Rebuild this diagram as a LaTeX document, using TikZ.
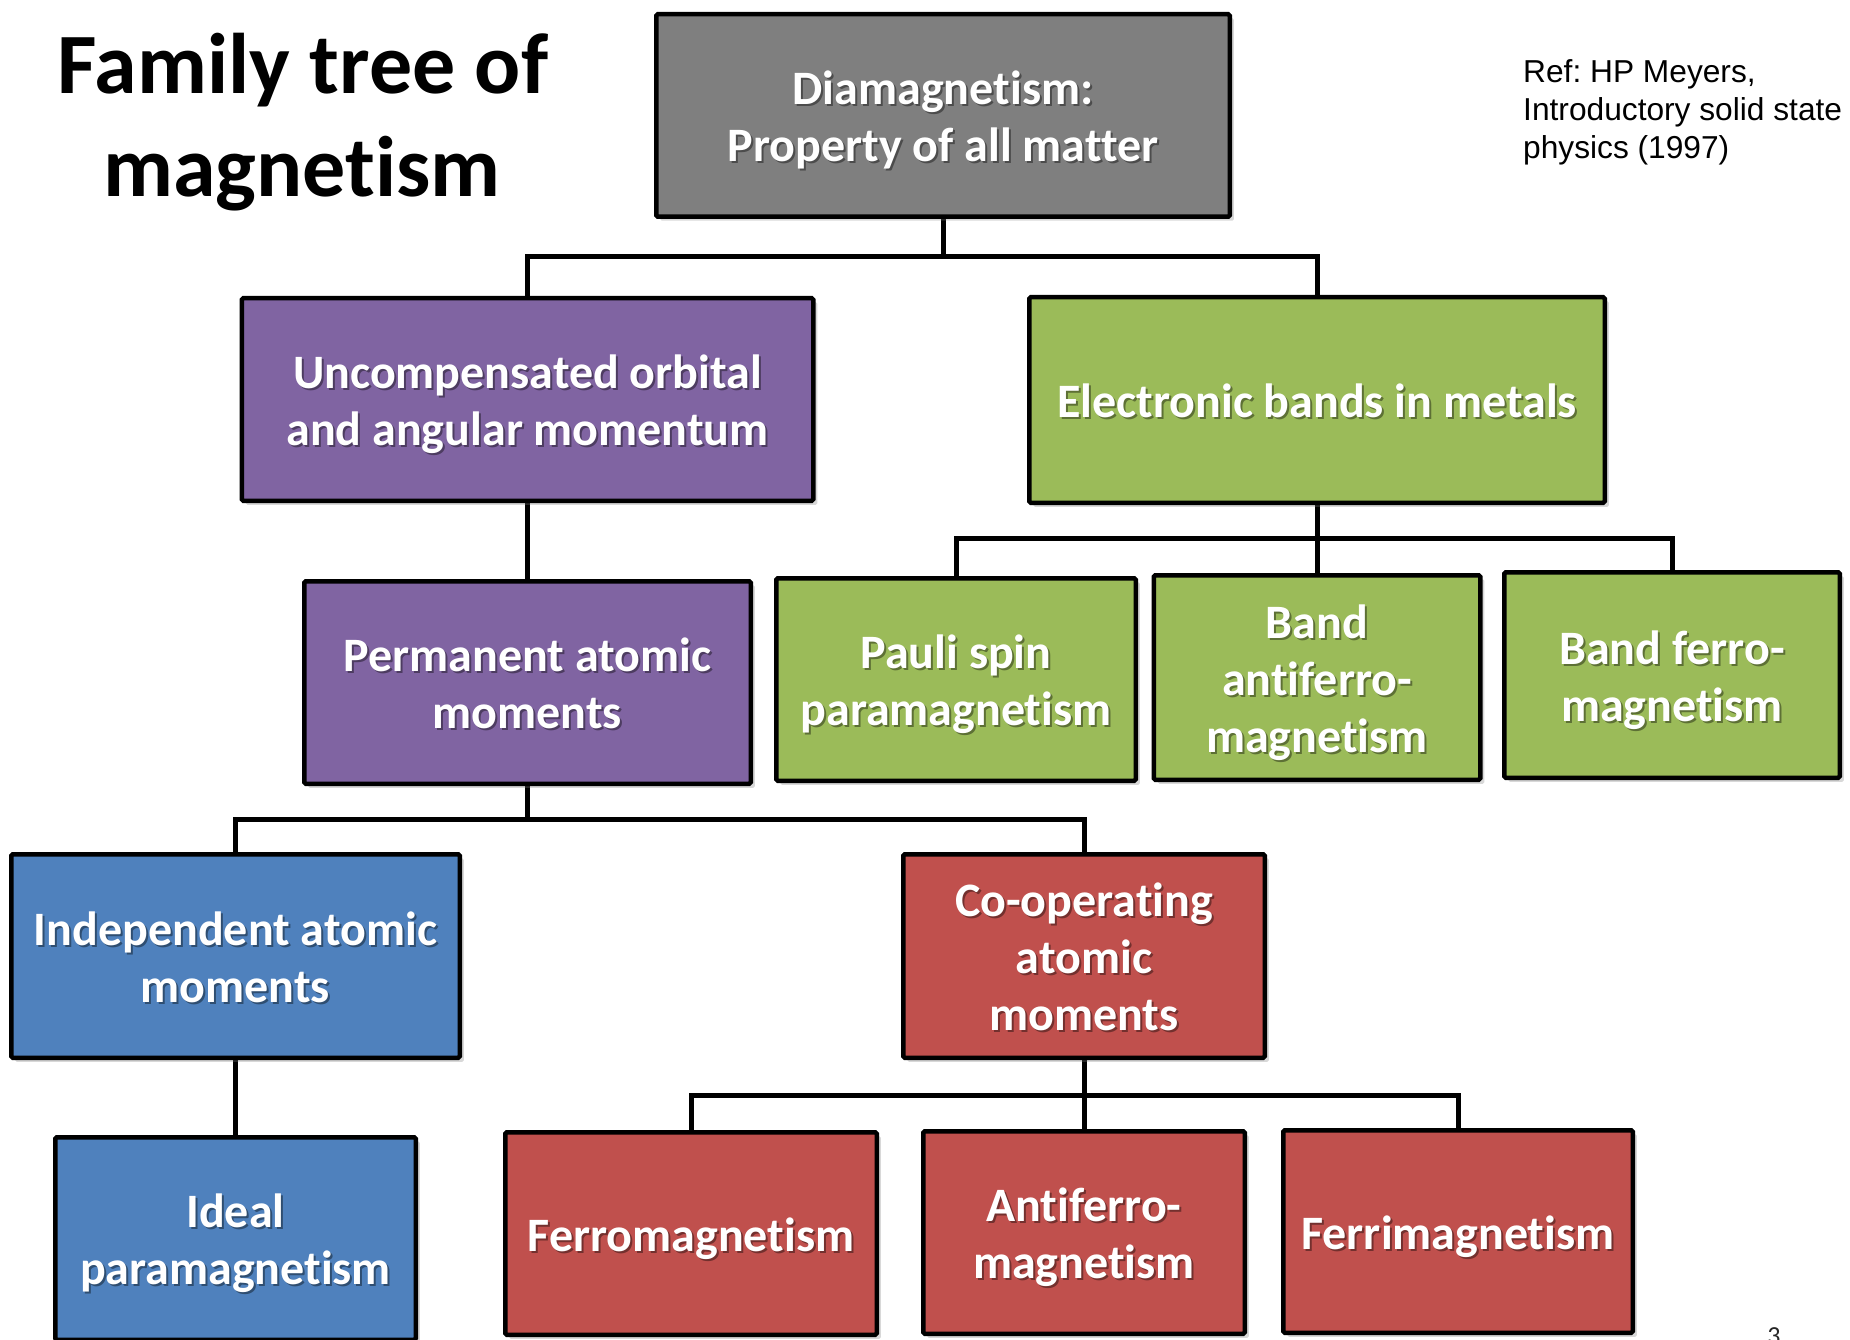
\documentclass[tikz,border=0pt]{standalone}
\usepackage{fontspec}
\newfontfamily\carl{Carlito}[Ligatures=CommonOff]
\newfontfamily\arl{Liberation Sans}
\usetikzlibrary{shadows,backgrounds}
\definecolor{cgray}{HTML}{7F7F7F}
\definecolor{cpurp}{HTML}{8064A2}
\definecolor{cgreen}{HTML}{9BBB59}
\definecolor{cblue}{HTML}{4F81BD}
\definecolor{cred}{HTML}{C0504D}
\colorlet{shc}{black}
\newcommand\boxfont{\carl\bfseries\fontsize{48}{57}\selectfont\lineskiplimit=-100pt\relax}
\newcommand\tsh[1]{\leavevmode\rule[-11pt]{0pt}{57.5pt}\rlap{\kern2pt\raisebox{-2pt}{\textcolor{shc}{#1}}}#1}
\tikzset{
  mbox/.style={draw=black, line width=4.5pt, fill=#1, rounded corners=1.5pt,
    text=white, align=center, inner sep=0pt, font=\boxfont,
    drop shadow={shadow xshift=4pt, shadow yshift=-4pt, opacity=0.3},
    execute at begin node={\colorlet{shc}{#1!60!black}}},
  conn/.style={line width=5pt, line join=miter, draw=black},
  ttl/.style={anchor=base, inner sep=0pt, font=\carl\bfseries\fontsize{86}{101}\selectfont},
  reftxt/.style={anchor=base west, inner sep=0pt, font=\arl\fontsize{31.7}{38}\selectfont},
}
\begin{document}
\frenchspacing
\begin{tikzpicture}[x=1pt,y=-1pt]
\useasboundingbox (0,0) rectangle (1850,1340);
% title and reference
\node[ttl] (title1) at (303,94) {Family tree of};
\node[ttl] (title2) at (302,197) {magnetism};
\node[reftxt] (ref1) at (1523,83) {Ref: HP Meyers,};
\node[reftxt] (ref2) at (1523,121) {Introductory solid state};
\node[reftxt] (ref3) at (1523,159) {physics (1997)};
% boxes
\node[mbox=cgray, minimum width=573.5pt, minimum height=202.5pt] (diam) at (943,115.5)
  {\tsh{Diamagnetism:}\\\tsh{Property of all matter}};
\node[mbox=cpurp, minimum width=571.5pt, minimum height=202.5pt] (unc) at (527.5,399.5)
  {\tsh{Uncompensated orbital}\\\tsh{and angular momentum}};
\node[mbox=cgreen, minimum width=575.5pt, minimum height=205.5pt] (elec) at (1317,400)
  {\tsh{Electronic bands in metals}};
\node[mbox=cpurp, minimum width=446.5pt, minimum height=202.5pt] (perm) at (527.5,682.5)
  {\tsh{Permanent atomic}\\\tsh{moments}};
\node[mbox=cgreen, minimum width=359.5pt, minimum height=202.5pt] (pauli) at (956,679.5)
  {\tsh{Pauli spin}\\\tsh{paramagnetism}};
\node[mbox=cgreen, minimum width=326.5pt, minimum height=204.5pt] (bafm) at (1317,677.5)
  {\tsh{Band}\\\tsh{antiferro-}\\\tsh{magnetism}};
\node[mbox=cgreen, minimum width=335.5pt, minimum height=205.5pt] (bfm) at (1672,675)
  {\tsh{Band ferro-}\\\tsh{magnetism}};
\node[mbox=cblue, minimum width=448.5pt, minimum height=203.5pt] (ind) at (235.5,956)
  {\tsh{Independent atomic}\\\tsh{moments}};
\node[mbox=cred, minimum width=361.5pt, minimum height=203.5pt] (coop) at (1084,956)
  {\tsh{Co-operating}\\\tsh{atomic}\\\tsh{moments}};
\node[mbox=cblue, minimum width=360.5pt, minimum height=202.5pt] (ideal) at (235.5,1238.5)
  {\tsh{Ideal}\\\tsh{paramagnetism}};
\node[mbox=cred, minimum width=371.5pt, minimum height=202.5pt] (ferro) at (691,1233.5)
  {\tsh{Ferromagnetism}};
\node[mbox=cred, minimum width=321.5pt, minimum height=202.5pt] (afm) at (1084,1232.5)
  {\tsh{Antiferro-}\\\tsh{magnetism}};
\node[mbox=cred, minimum width=349.5pt, minimum height=202.5pt] (ferri) at (1458,1231.5)
  {\tsh{Ferrimagnetism}};
\node[anchor=north, inner sep=0pt, text=black!85, font=\carl\fontsize{26}{30}\selectfont] (pnum) at (1774,1327) {3};
% connectors
\begin{scope}[on background layer]
\fill[white] (0,0) rectangle (1850,1340);
\coordinate (j1) at (943,257);
\draw[conn] (diam.south) -- (j1);
\draw[conn] (unc.north) |- (j1) -| (elec.north);
\draw[conn] (unc.south) -- (perm.north);
\coordinate (j2) at (1317,538);
\draw[conn] (elec.south) -- (j2);
\draw[conn] (pauli.north) |- (j2) -| (bfm.north);
\draw[conn] (j2) -- (bafm.north);
\coordinate (j3) at (527.5,819);
\draw[conn] (perm.south) -- (j3);
\draw[conn] (ind.north) |- (j3) -| (coop.north);
\draw[conn] (ind.south) -- (ideal.north);
\coordinate (j4) at (1084,1095);
\draw[conn] (coop.south) -- (j4);
\draw[conn] (ferro.north) |- (j4) -| (ferri.north);
\draw[conn] (j4) -- (afm.north);
\end{scope}
\end{tikzpicture}
\end{document}
